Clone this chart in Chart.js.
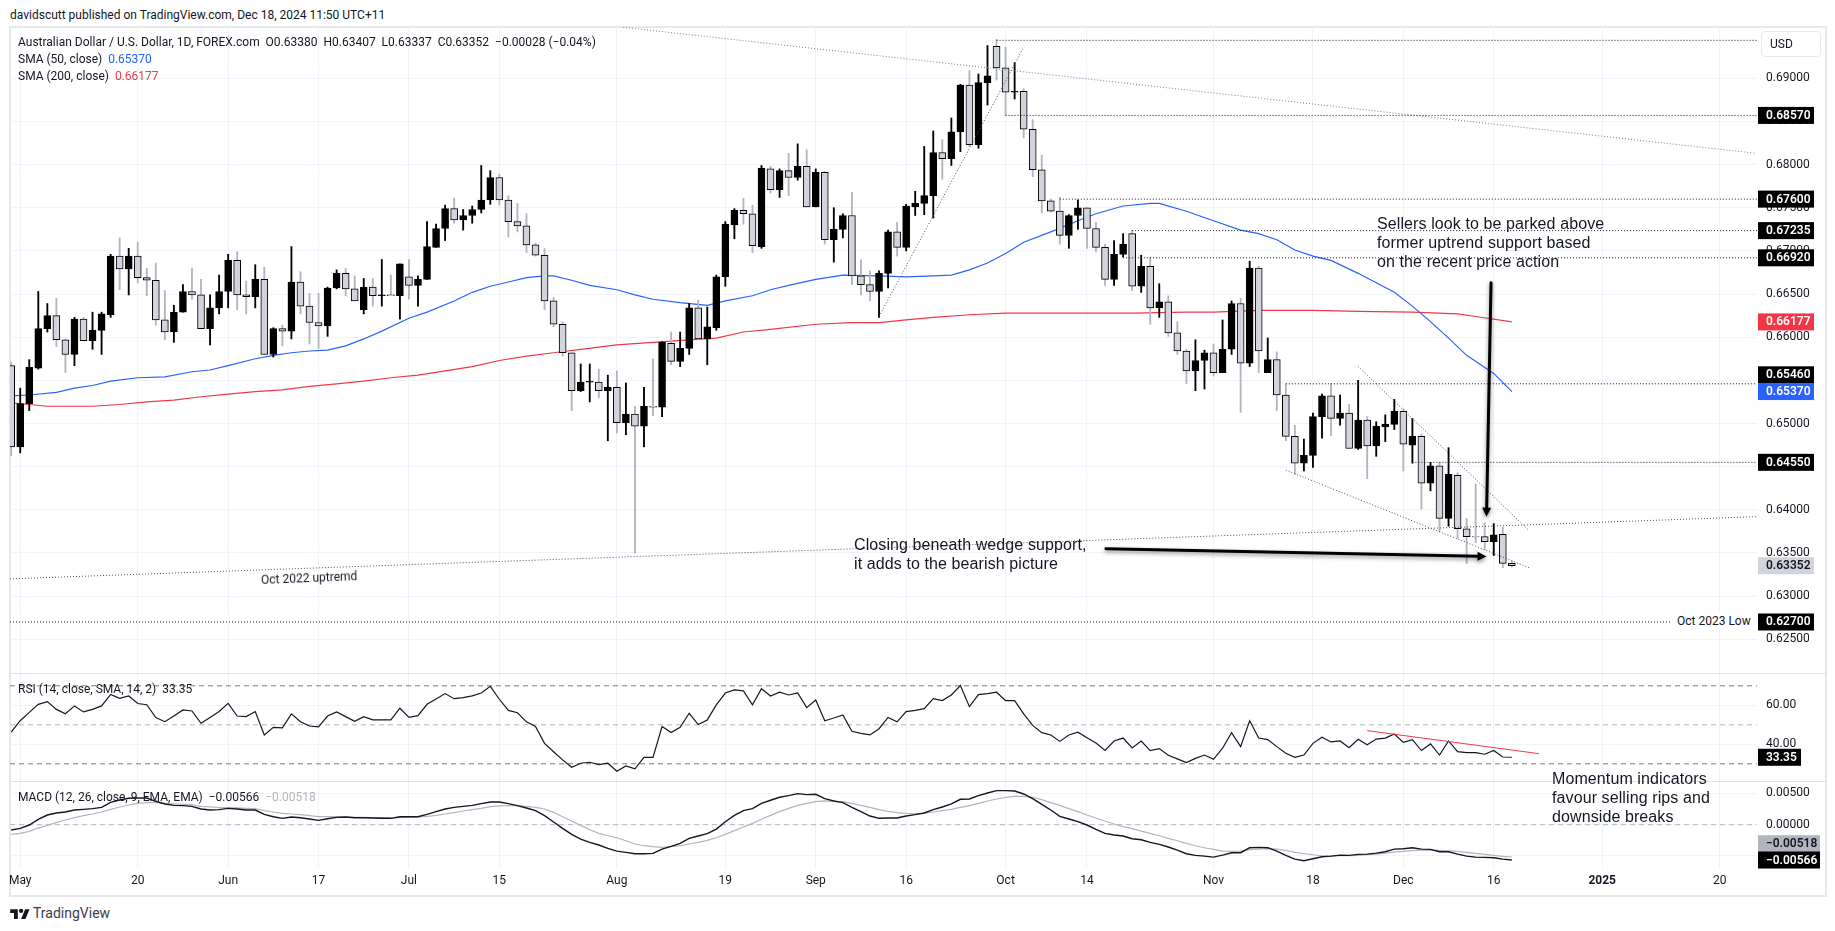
<!DOCTYPE html>
<html>
<head>
<meta charset="utf-8">
<title>AUD/USD</title>
<script src="https://cdn.jsdelivr.net/npm/chart.js@4/dist/chart.umd.min.js"></script>
<style>
  html, body { margin: 0; background: #fff; }
  #page { position: relative; width: 1835px; height: 931px; overflow: hidden; font-family: Roboto, sans-serif; color: #131722; }
  canvas { position: absolute; left: 0; }
  .txt { position: absolute; white-space: pre; font-size: 12px; line-height: 16px; }
  .note { position: absolute; white-space: pre; font-family: "Liberation Sans", Arial, sans-serif; font-size: 16px; letter-spacing: 0.1px; line-height: 19px; color: #131722; }
  .line { position: absolute; background: #e6e8ee; }
</style>
</head>
<body>
<div id="page">
  <div class="line" style="left:9px;top:26px;width:1818px;height:2px"></div>
  <div class="line" style="left:9px;top:26px;width:2px;height:870px"></div>
  <div class="line" style="left:1825px;top:26px;width:2px;height:870px"></div>
  <div class="line" style="left:9px;top:895px;width:1818px;height:2px"></div>

  <canvas id="priceChart" width="1835" height="646" style="top:27px"></canvas>
  <canvas id="rsiChart" width="1835" height="108" style="top:674px"></canvas>
  <canvas id="macdChart" width="1835" height="113" style="top:782px"></canvas>

  <div class="line" style="left:9px;top:673px;width:1818px;height:1px;background:#e0e3eb"></div>
  <div class="line" style="left:9px;top:781px;width:1818px;height:1px;background:#e0e3eb"></div>

  <div class="txt" style="left:10px;top:7px">davidscutt published on TradingView.com, Dec 18, 2024 11:50 UTC+11</div>
  <div class="txt" style="left:18px;top:34px">Australian Dollar / U.S. Dollar, 1D, FOREX.com  O0.63380  H0.63407  L0.63337  C0.63352  −0.00028 (−0.04%)</div>
  <div class="txt" style="left:18px;top:51px">SMA (50, close)  <span style="color:#2962ff">0.65370</span></div>
  <div class="txt" style="left:18px;top:68px">SMA (200, close)  <span style="color:#f23645">0.66177</span></div>
  <div class="txt" style="left:18px;top:681px">RSI (14, close, SMA, 14, 2)  33.35</div>
  <div class="txt" style="left:18px;top:789px">MACD (12, 26, close, 9, EMA, EMA)  −0.00566  <span style="color:#b2b5be">−0.00518</span></div>

  <div class="txt" style="left:1761px;top:31px;width:58px;height:24px;border:1.5px solid #e6e8ee;border-radius:4px;line-height:24px;text-indent:8px">USD</div>

  <div class="txt" style="left:261px;top:570px;transform:rotate(-2.3deg)">Oct 2022 uptremd</div>
  <div class="txt" style="left:1671px;top:613px;padding:0 6px;background:#fff">Oct 2023 Low</div>

  <div class="note" style="left:1377px;top:214px">Sellers look to be parked above
former uptrend support based
on the recent price action</div>
  <div class="note" style="left:854px;top:535px">Closing beneath wedge support,
it adds to the bearish picture</div>
  <div class="note" style="left:1552px;top:769px">Momentum indicators
favour selling rips and
downside breaks</div>

  <svg style="position:absolute;left:10px;top:907px" width="20" height="12" viewBox="0 0 36 22">
    <path fill="#131722" d="M14 22H7V11H0V4h14v18zM28 22h-8l7.5-18h8L28 22z"/><circle fill="#131722" cx="20" cy="7" r="4"/>
  </svg>
  <div class="txt" style="left:33px;top:905px;font-size:14px;color:#3a3e4a">TradingView</div>
</div>

<script>
// Daily candles, Apr 30 to Dec 18 2024, index 0 = Apr 30
const opens = [
  0.6567,0.6473,0.6523,0.6564,0.6610,0.6625,0.6597,0.6580,0.6621,0.6596,
  0.6608,0.6626,0.6694,0.6679,0.6694,0.6669,0.6666,0.6620,0.6606,0.6629,
  0.6653,0.6649,0.6610,0.6634,0.6653,0.6689,0.6649,0.6647,0.6667,0.6580,
  0.6610,0.6607,0.6664,0.6636,0.6617,0.6613,0.6657,0.6674,0.6656,0.6632,
  0.6658,0.6648,0.6649,0.6648,0.6670,0.6660,0.6667,0.6704,0.6726,0.6749,
  0.6736,0.6741,0.6748,0.6759,0.6785,0.6759,0.6734,0.6729,0.6707,0.6695,
  0.6642,0.6615,0.6582,0.6538,0.6548,0.6548,0.6538,0.6542,0.6501,0.6511,
  0.6497,0.6520,0.6519,0.6593,0.6572,0.6587,0.6634,0.6598,0.6611,0.6670,
  0.6730,0.6747,0.6743,0.6705,0.6795,0.6771,0.6793,0.6785,0.6798,0.6751,
  0.6791,0.6713,0.6725,0.6741,0.6671,0.6661,0.6653,0.6674,0.6722,0.6704,
  0.6751,0.6755,0.6764,0.6814,0.6807,0.6838,0.6892,0.6823,0.6895,0.6937,
  0.6912,0.6884,0.6885,0.6841,0.6794,0.6758,0.6746,0.6718,0.6741,0.6750,
  0.6726,0.6704,0.6667,0.6696,0.6720,0.6659,0.6682,0.6634,0.6641,0.6605,
  0.6584,0.6561,0.6573,0.6582,0.6559,0.6586,0.6639,0.6570,0.6680,0.6559,
  0.6574,0.6533,0.6485,0.6454,0.6463,0.6508,0.6532,0.6506,0.6512,0.6471,
  0.6504,0.6474,0.6496,0.6499,0.6514,0.6475,0.6485,0.6431,0.6451,0.6390,
  0.6440,0.6378,0.6369,0.6369,0.6363,0.63715,0.63380
];
const highs = [
  0.6571,0.6541,0.6574,0.6653,0.6639,0.6645,0.6598,0.6623,0.6623,0.6629,
  0.6629,0.6696,0.6715,0.6703,0.6710,0.6680,0.6686,0.6654,0.6637,0.6661,
  0.6680,0.6667,0.6649,0.6672,0.6696,0.6699,0.6665,0.6684,0.6681,0.6611,
  0.6614,0.6705,0.6676,0.6651,0.6651,0.6658,0.6678,0.6680,0.6671,0.6668,
  0.6668,0.6690,0.6672,0.6685,0.6690,0.6671,0.6734,0.6731,0.6753,0.6761,
  0.6748,0.6752,0.6799,0.6793,0.6789,0.6764,0.6755,0.6743,0.6709,0.6703,
  0.6646,0.6618,0.6582,0.6569,0.6569,0.6563,0.6556,0.6561,0.6547,0.6520,
  0.6542,0.6575,0.6595,0.6606,0.6606,0.6639,0.6643,0.6635,0.6672,0.6734,
  0.6749,0.6761,0.6753,0.6799,0.6798,0.6795,0.6813,0.6824,0.6817,0.6795,
  0.6792,0.6750,0.6743,0.6768,0.6690,0.6677,0.6677,0.6724,0.6733,0.6754,
  0.6769,0.6821,0.6839,0.6829,0.6854,0.6893,0.6909,0.6905,0.6938,0.6945,
  0.6936,0.6918,0.6888,0.6852,0.6811,0.6760,0.6762,0.6742,0.6759,0.6750,
  0.6733,0.6708,0.6712,0.6720,0.6724,0.6695,0.6693,0.6662,0.6648,0.6618,
  0.6586,0.6597,0.6585,0.6592,0.6620,0.6642,0.6645,0.6688,0.6682,0.6599,
  0.6583,0.6546,0.6498,0.6482,0.6512,0.6534,0.6546,0.6533,0.6522,0.6550,
  0.6508,0.6502,0.6510,0.6528,0.6517,0.6506,0.6488,0.6455,0.6455,0.6472,
  0.6443,0.6390,0.6430,0.6385,0.6384,0.6380,0.63407
];
const lows = [
  0.6463,0.6466,0.6515,0.6563,0.6606,0.6589,0.6559,0.6567,0.6596,0.6586,
  0.6580,0.6623,0.6655,0.6649,0.6663,0.6648,0.6614,0.6597,0.6594,0.6629,
  0.6644,0.6610,0.6591,0.6627,0.6634,0.6632,0.6627,0.6634,0.6580,0.6577,
  0.6590,0.6598,0.6627,0.6592,0.6587,0.6601,0.6656,0.6648,0.6642,0.6627,
  0.6636,0.6636,0.6648,0.6621,0.6644,0.6636,0.6667,0.6704,0.6712,0.6732,
  0.6724,0.6732,0.6744,0.6754,0.6753,0.6716,0.6722,0.6698,0.6694,0.6632,
  0.6612,0.6578,0.6515,0.6537,0.6525,0.6530,0.6480,0.6489,0.6487,0.6350,
  0.6473,0.6509,0.6508,0.6568,0.6566,0.6580,0.6597,0.6568,0.6608,0.6659,
  0.6714,0.6731,0.6698,0.6703,0.6767,0.6762,0.6764,0.6782,0.6751,0.6751,
  0.6708,0.6687,0.6715,0.6661,0.6649,0.6642,0.6623,0.6657,0.6694,0.6700,
  0.6741,0.6742,0.6738,0.6783,0.6799,0.6815,0.6821,0.6819,0.6869,0.6898,
  0.6857,0.6876,0.6831,0.6786,0.6744,0.6745,0.6708,0.6703,0.6725,0.6703,
  0.6699,0.6660,0.6660,0.6693,0.6654,0.6652,0.6615,0.6623,0.6601,0.6580,
  0.6546,0.6538,0.6540,0.6555,0.6559,0.6580,0.6513,0.6566,0.6559,0.6559,
  0.6515,0.6480,0.6441,0.6445,0.6449,0.6483,0.6486,0.6498,0.6471,0.6470,
  0.6436,0.6462,0.6479,0.6493,0.6445,0.6454,0.6401,0.6422,0.6375,0.6381,
  0.6367,0.6338,0.6362,0.6354,0.6347,0.6333,0.63337
];
const closes = [
  0.6473,0.6523,0.6565,0.6610,0.6625,0.6597,0.6580,0.6621,0.6596,0.6608,
  0.6627,0.6694,0.6679,0.6694,0.6669,0.6666,0.6620,0.6606,0.6629,0.6653,
  0.6649,0.6610,0.6634,0.6653,0.6689,0.6649,0.6647,0.6667,0.6580,0.6610,
  0.6607,0.6664,0.6636,0.6617,0.6613,0.6657,0.6674,0.6656,0.6642,0.6658,
  0.6648,0.6649,0.6648,0.6685,0.6660,0.6667,0.6705,0.6726,0.6749,0.6736,
  0.6741,0.6748,0.6759,0.6785,0.6759,0.6734,0.6729,0.6707,0.6695,0.6642,
  0.6615,0.6582,0.6538,0.6548,0.6549,0.6538,0.6542,0.6501,0.6511,0.6497,
  0.6520,0.6519,0.6594,0.6572,0.6587,0.6634,0.6598,0.6612,0.6670,0.6731,
  0.6747,0.6743,0.6706,0.6796,0.6771,0.6793,0.6785,0.6798,0.6751,0.6791,
  0.6713,0.6725,0.6741,0.6671,0.6661,0.6653,0.6674,0.6722,0.6704,0.6752,
  0.6755,0.6764,0.6814,0.6807,0.6838,0.6892,0.6823,0.6895,0.6903,0.6912,
  0.6884,0.6885,0.6841,0.6794,0.6758,0.6746,0.6718,0.6741,0.6750,0.6726,
  0.6704,0.6667,0.6696,0.6708,0.6659,0.6682,0.6634,0.6641,0.6605,0.6584,
  0.6561,0.6573,0.6582,0.6559,0.6586,0.6639,0.6570,0.6680,0.6584,0.6574,
  0.6533,0.6485,0.6454,0.6463,0.6508,0.6532,0.6506,0.6512,0.6471,0.6504,
  0.6474,0.6497,0.6499,0.6514,0.6476,0.6485,0.6431,0.6451,0.6390,0.6441,
  0.6378,0.6369,0.63685,0.6363,0.6371,0.6338,0.63352
];

const sma50Idx = [0,2,5,7,9,11,14,17,20,22,24,27,29,31,33,35,37,39,41,44,46,49,51,53,55,57,59,60,62,64,67,69,71,74,77,79,82,84,86,89,92,96,99,102,104,106,108,110,112,115,118,120,123,126,127,130,133,136,138,140,142,144,146,149,151,153,155,157,159,161,164,166];
const sma50 = [0.6532,0.6533,0.6536,0.6541,0.6544,0.6549,0.6553,0.6554,0.6560,0.6562,0.6567,0.6575,0.6579,0.6582,0.6584,0.6585,0.6590,0.6598,0.6607,0.6622,0.6629,0.6642,0.6652,0.6659,0.6664,0.6669,0.6671,0.6671,0.6666,0.6660,0.6655,0.6649,0.6644,0.6640,0.6637,0.6642,0.6648,0.6655,0.6660,0.6667,0.6672,0.6671,0.6670,0.6671,0.6672,0.6678,0.6686,0.6697,0.6710,0.6722,0.6735,0.6743,0.6752,0.6755,0.6755,0.6746,0.6735,0.6724,0.6720,0.6713,0.6701,0.6694,0.6689,0.6674,0.6663,0.6652,0.6636,0.6618,0.6599,0.6579,0.6558,0.6537];
const sma200Idx = [0,2,4,6,9,12,15,18,21,24,27,30,33,36,39,42,45,48,51,54,57,60,63,67,71,75,78,81,84,89,93,96,99,102,106,110,114,119,124,130,133,138,144,149,155,160,162,166];
const sma200 = [0.6524,0.6522,0.6520,0.6520,0.6520,0.6522,0.6525,0.6527,0.6531,0.6534,0.6537,0.6539,0.6543,0.6546,0.6549,0.6553,0.6556,0.6561,0.6566,0.6573,0.6578,0.6582,0.6586,0.6591,0.6594,0.6597,0.6599,0.6606,0.6609,0.6615,0.6617,0.6617,0.6620,0.6623,0.6626,0.6628,0.6628,0.6628,0.6628,0.6629,0.6629,0.6631,0.6631,0.6630,0.6629,0.6627,0.6624,0.66177];

const rsiValues = [
  46.3,52.1,56.4,60.5,61.9,57.9,55.7,59.7,56.6,57.9,59.7,65.6,63.6,64.8,60.9,60.3,53.7,51.6,54.5,57.6,
  57.1,50.8,53.8,56.8,61.0,54.5,54.2,56.8,44.8,48.7,48.4,55.6,51.6,49.4,48.9,54.5,56.6,54.2,51.8,54.2,
  52.5,52.5,52.5,58.5,53.8,54.7,60.5,63.2,66.0,63.4,63.9,64.8,66.3,69.7,63.1,57.4,56.2,51.5,49.2,40.5,
  36.2,32.0,28.2,30.3,30.8,29.6,30.3,26.2,28.9,27.4,33.3,33.3,49.1,46.0,48.7,55.9,50.1,52.5,60.2,66.3,
  67.9,67.4,60.2,68.5,64.8,66.7,65.3,66.3,58.8,62.7,52.1,53.5,55.0,46.7,45.6,44.8,48.0,53.8,51.5,56.8,
  57.4,58.3,63.4,62.4,65.3,70.1,59.3,65.5,66.0,66.7,62.4,62.4,55.6,49.7,46.0,44.8,41.5,44.8,46.2,43.4,
  40.7,36.9,41.7,43.2,38.1,41.7,36.8,37.8,34.4,32.5,30.6,32.8,34.5,32.3,38.0,46.0,38.8,52.1,43.2,42.4,
  38.8,35.4,33.3,34.5,40.5,43.6,41.2,41.7,38.3,42.6,39.8,42.7,43.2,45.3,41.0,42.4,36.8,40.2,34.5,41.7,
  36.2,35.7,35.7,34.9,36.8,33.5,33.35
];
const macdLine = [
  -0.00086,-0.00059,-0.00005,0.00086,0.00155,0.00187,0.00203,0.00235,0.00246,0.00257,0.00278,0.00358,0.00396,0.00423,0.00428,0.00428,0.00375,0.00332,0.00310,0.00305,
  0.00294,0.00251,0.00235,0.00241,0.00262,0.00251,0.00235,0.00235,0.00166,0.00128,0.00102,0.00123,0.00112,0.00091,0.00070,0.00096,0.00118,0.00123,0.00112,0.00112,
  0.00107,0.00102,0.00102,0.00128,0.00128,0.00128,0.00166,0.00209,0.00251,0.00278,0.00294,0.00310,0.00337,0.00364,0.00364,0.00337,0.00305,0.00268,0.00225,0.00144,
  0.00043,-0.00059,-0.00155,-0.00230,-0.00284,-0.00326,-0.00380,-0.00423,-0.00444,-0.00465,-0.00465,-0.00460,-0.00391,-0.00348,-0.00300,-0.00219,-0.00182,-0.00144,-0.00070,0.00048,
  0.00150,0.00225,0.00257,0.00342,0.00391,0.00439,0.00465,0.00498,0.00482,0.00487,0.00417,0.00380,0.00353,0.00278,0.00209,0.00139,0.00102,0.00107,0.00107,0.00139,
  0.00161,0.00187,0.00241,0.00284,0.00332,0.00407,0.00412,0.00465,0.00508,0.00546,0.00546,0.00540,0.00492,0.00417,0.00326,0.00235,0.00134,0.00091,0.00048,-0.00005,
  -0.00075,-0.00139,-0.00166,-0.00182,-0.00225,-0.00241,-0.00284,-0.00316,-0.00358,-0.00407,-0.00465,-0.00492,-0.00503,-0.00519,-0.00487,-0.00449,-0.00449,-0.00369,-0.00364,-0.00369,
  -0.00423,-0.00492,-0.00551,-0.00578,-0.00546,-0.00514,-0.00503,-0.00487,-0.00492,-0.00476,-0.00471,-0.00455,-0.00433,-0.00391,-0.00385,-0.00369,-0.00391,-0.00396,-0.00433,-0.00433,
  -0.00471,-0.00503,-0.00519,-0.00524,-0.00530,-0.00551,-0.00566
];
const macdSignal = [
  -0.00155,-0.00139,-0.00107,-0.00054,-0.00011,0.00032,0.00075,0.00112,0.00144,0.00171,0.00203,0.00246,0.00284,0.00316,0.00342,0.00353,0.00353,0.00342,0.00332,0.00326,
  0.00321,0.00294,0.00284,0.00273,0.00273,0.00268,0.00262,0.00257,0.00225,0.00203,0.00182,0.00171,0.00161,0.00144,0.00128,0.00128,0.00128,0.00123,0.00118,0.00118,
  0.00112,0.00112,0.00107,0.00112,0.00118,0.00123,0.00134,0.00150,0.00171,0.00193,0.00219,0.00241,0.00262,0.00289,0.00300,0.00305,0.00305,0.00294,0.00278,0.00251,
  0.00198,0.00128,0.00059,-0.00011,-0.00080,-0.00139,-0.00177,-0.00209,-0.00257,-0.00310,-0.00337,-0.00353,-0.00364,-0.00353,-0.00337,-0.00310,-0.00284,-0.00251,-0.00209,-0.00155,
  -0.00096,-0.00037,0.00021,0.00086,0.00150,0.00209,0.00262,0.00310,0.00342,0.00369,0.00380,0.00375,0.00369,0.00342,0.00310,0.00278,0.00241,0.00214,0.00193,0.00182,
  0.00177,0.00182,0.00203,0.00225,0.00246,0.00278,0.00305,0.00342,0.00380,0.00412,0.00439,0.00455,0.00455,0.00439,0.00401,0.00353,0.00310,0.00257,0.00209,0.00155,
  0.00107,0.00059,0.00011,-0.00032,-0.00064,-0.00102,-0.00139,-0.00177,-0.00219,-0.00257,-0.00300,-0.00337,-0.00369,-0.00396,-0.00423,-0.00428,-0.00423,-0.00401,-0.00391,-0.00385,
  -0.00391,-0.00412,-0.00444,-0.00465,-0.00482,-0.00498,-0.00503,-0.00498,-0.00498,-0.00492,-0.00482,-0.00471,-0.00455,-0.00439,-0.00428,-0.00417,-0.00407,-0.00407,-0.00412,-0.00417,
  -0.00428,-0.00444,-0.00460,-0.00476,-0.00492,-0.00508,-0.00518
];

const xTickIdx = [1,14,24,34,44,54,67,79,89,99,110,119,133,144,154,164,176,189];
const xTickLabels = ['May','20','Jun','17','Jul','15','Aug','19','Sep','16','Oct','14','Nov','18','Dec','16','2025','20'];
const priceTicks = [0.625,0.63,0.635,0.64,0.645,0.65,0.655,0.66,0.665,0.67,0.675,0.68,0.685,0.69];
const rsiTicks = [40,60];
const rsiBands = [70,50,30];
const macdTicks = [-0.005,0,0.005];

// horizontal levels drawn on the price pane, and the bar each one starts from
const levelPrices = [0.6944,0.6857,0.6760,0.67235,0.6692,0.6546,0.6455,0.6270];
const levelStarts = [109,110,116,124,123,141,155,-0.13];

// trendlines: [start bar, start price, end bar, end price]
const greyTrend = [67.7,0.69591,193,0.68131];
const riseTrend = [96,0.6624,111.9,0.6934];
const uptrend2022 = [-0.13,0.6320,193,0.6392];
const wedgeUpper = [149,0.6566,167.9,0.6376];
const wedgeLower = [141,0.6446,167.9,0.6333];
const rsiTrend = [150,47.0,169,35.2];
const arrowDown = [163.7,0.6663,163.2,0.6392];
const arrowAcross = [121.1,0.6355,163.2,0.6346];

const priceTags = [
  { value: 0.6857, text: '0.68570', bg: '#000', fg: '#fff' },
  { value: 0.6760, text: '0.67600', bg: '#000', fg: '#fff' },
  { value: 0.67235, text: '0.67235', bg: '#000', fg: '#fff' },
  { value: 0.6692, text: '0.66920', bg: '#000', fg: '#fff' },
  { value: 0.66177, text: '0.66177', bg: '#f23645', fg: '#fff' },
  { value: 0.6546, text: '0.65460', bg: '#000', fg: '#fff', shift: -9 },
  { value: 0.6537, text: '0.65370', bg: '#2962ff', fg: '#fff' },
  { value: 0.6455, text: '0.64550', bg: '#000', fg: '#fff' },
  { value: 0.63352, text: '0.63352', bg: '#d1d4dc', fg: '#131722' },
  { value: 0.6270, text: '0.62700', bg: '#000', fg: '#fff' }
];
const rsiTags = [{ value: 33.35, text: '33.35', bg: '#000', fg: '#fff', width: 43 }];
const macdTags = [
  { value: -0.00518, text: '−0.00518', bg: '#b2b5be', fg: '#131722', width: 62, shift: -13.3 },
  { value: -0.00566, text: '−0.00566', bg: '#000', fg: '#fff', width: 62 }
];

const X_MIN = -0.13;
const X_MAX = 193.12;
const GRID = '#f0f3fa';
const TEXT = '#131722';
const FONT = 'Roboto';

function points(idx, values) {
  return values.map((v, i) => ({ x: idx[i], y: v }));
}

function seriesLine(values) {
  return values.map((v, i) => ({ x: i, y: v }));
}

function segment(t) {
  return [{ x: t[0], y: t[1] }, { x: t[2], y: t[3] }];
}

function lineSet(data, color, width, dash, order) {
  return {
    type: 'line', data, borderColor: color, borderWidth: width, borderDash: dash || [],
    pointRadius: 0, tension: 0, order: order === undefined ? 1 : order
  };
}

// tick labels must not pull the plot area in, panes line up to the pixel
function noPadding(scale) {
  scale.paddingTop = 0;
  scale.paddingBottom = 0;
  scale.paddingLeft = 0;
  scale.paddingRight = 0;
}

function xScale(showLabels, height) {
  return {
    type: 'linear', min: X_MIN, max: X_MAX, offset: false,
    afterBuildTicks: (scale) => { scale.ticks = xTickIdx.map((v) => ({ value: v })); },
    afterFit: (scale) => { scale.height = height; noPadding(scale); },
    grid: { color: GRID, drawTicks: false, offset: false },
    border: { display: false },
    ticks: {
      display: showLabels, autoSkip: false, maxRotation: 0, padding: 6, color: TEXT,
      font: (ctx) => ({ family: FONT, size: 12, weight: ctx.tick && ctx.tick.value === 176 ? '700' : '400' }),
      callback: (value) => xTickLabels[xTickIdx.indexOf(value)]
    }
  };
}

function yScale(min, max, tickValues, digits) {
  return {
    position: 'right', min, max,
    afterBuildTicks: (scale) => { scale.ticks = tickValues.map((v) => ({ value: v })); },
    afterFit: (scale) => { scale.width = 78; noPadding(scale); },
    grid: { color: GRID, drawTicks: false },
    border: { display: false },
    ticks: {
      autoSkip: false, padding: 9, color: TEXT, font: { family: FONT, size: 12 },
      callback: (value) => value.toFixed(digits)
    }
  };
}

// value tags on the right axis, drawn over the tick labels
function tagPlugin(tags) {
  return {
    id: 'tags',
    afterDraw(chart) {
      const { ctx, scales: { y } } = chart;
      ctx.save();
      ctx.font = `600 12px ${FONT}`;
      ctx.textBaseline = 'middle';
      tags.forEach((tag) => {
        const top = y.getPixelForValue(tag.value) - 8.5 + (tag.shift || 0);
        ctx.fillStyle = tag.bg;
        ctx.fillRect(1758, top, tag.width || 56, 17);
        ctx.fillStyle = tag.fg;
        ctx.fillText(tag.text, 1766, top + 9);
      });
      ctx.restore();
    }
  };
}

const arrowPlugin = {
  id: 'arrows',
  afterDatasetsDraw(chart) {
    const { ctx, scales: { x, y } } = chart;
    [arrowDown, arrowAcross].forEach((a) => {
      const x1 = x.getPixelForValue(a[0]);
      const y1 = y.getPixelForValue(a[1]);
      const x2 = x.getPixelForValue(a[2]);
      const y2 = y.getPixelForValue(a[3]);
      const ang = Math.atan2(y2 - y1, x2 - x1);
      ctx.save();
      ctx.shadowColor = 'rgba(0,0,0,0.45)';
      ctx.shadowBlur = 4;
      ctx.shadowOffsetY = 2;
      ctx.strokeStyle = '#000';
      ctx.fillStyle = '#000';
      ctx.lineWidth = 3;
      ctx.lineCap = 'round';
      ctx.beginPath();
      ctx.moveTo(x1, y1);
      ctx.lineTo(x2 - 8 * Math.cos(ang), y2 - 8 * Math.sin(ang));
      ctx.stroke();
      ctx.beginPath();
      ctx.moveTo(x2, y2);
      ctx.lineTo(x2 - 9 * Math.cos(ang) + 4.5 * Math.sin(ang), y2 - 9 * Math.sin(ang) - 4.5 * Math.cos(ang));
      ctx.lineTo(x2 - 9 * Math.cos(ang) - 4.5 * Math.sin(ang), y2 - 9 * Math.sin(ang) + 4.5 * Math.cos(ang));
      ctx.closePath();
      ctx.fill();
      ctx.restore();
    });
  }
};

const baseOptions = {
  responsive: false,
  animation: false,
  events: [],
  layout: { padding: { left: 10 } },
  plugins: { legend: { display: false }, tooltip: { enabled: false } }
};

const isUp = opens.map((o, i) => closes[i] >= o);

new Chart(document.getElementById('priceChart'), {
  data: {
    datasets: [
      {
        type: 'bar', grouped: false, order: 2, barThickness: 7, borderWidth: 1, borderSkipped: false, borderColor: '#000',
        data: opens.map((o, i) => ({ x: i, y: [o, closes[i]] })),
        backgroundColor: isUp.map((up) => (up ? '#000' : '#d1d4dc'))
      },
      {
        type: 'bar', grouped: false, order: 3, barThickness: 1.2,
        data: lows.map((l, i) => ({ x: i, y: [l, highs[i]] })),
        backgroundColor: isUp.map((up) => (up ? '#000' : '#b2b5be'))
      },
      lineSet(points(sma50Idx, sma50), '#2962ff', 1.2, null, 4),
      lineSet(points(sma200Idx, sma200), '#f23645', 1.2, null, 4),
      ...levelPrices.map((p, i) => lineSet(segment([levelStarts[i], p, X_MAX, p]), '#131722', 1, [1, 2], 1)),
      lineSet(segment(greyTrend), '#787b86', 1, [1, 2], 1),
      lineSet(segment(riseTrend), '#4a4e59', 1, [1, 2], 1),
      lineSet(segment(uptrend2022), '#4a4e59', 1, [1, 2], 1),
      lineSet(segment(wedgeUpper), '#4a4e59', 1, [1, 2], 1),
      lineSet(segment(wedgeLower), '#4a4e59', 1, [1, 2], 1)
    ]
  },
  options: {
    ...baseOptions,
    scales: { x: xScale(false, 0), y: yScale(0.62109, 0.695944, priceTicks, 5) }
  },
  plugins: [arrowPlugin, tagPlugin(priceTags)]
});

new Chart(document.getElementById('rsiChart'), {
  data: {
    datasets: [
      ...rsiBands.map((b) => lineSet(segment([X_MIN, b, X_MAX, b]), b === 50 ? '#b2b5be' : '#787b86', 1, [5, 4], 3)),
      lineSet(seriesLine(rsiValues), '#131722', 1.2, null, 2),
      lineSet(segment(rsiTrend), '#f23645', 1, null, 1)
    ]
  },
  options: {
    ...baseOptions,
    scales: { x: xScale(false, 0), y: yScale(20.67, 76.05, rsiTicks, 2) }
  },
  plugins: [tagPlugin(rsiTags)]
});

new Chart(document.getElementById('macdChart'), {
  data: {
    datasets: [
      lineSet(segment([X_MIN, 0, X_MAX, 0]), '#b2b5be', 1, [5, 4], 3),
      lineSet(seriesLine(macdSignal), '#b2b5be', 1.2, null, 2),
      lineSet(seriesLine(macdLine), '#131722', 1.4, null, 1)
    ]
  },
  options: {
    ...baseOptions,
    scales: { x: xScale(true, 27), y: yScale(-0.00694, 0.00684, macdTicks, 5) }
  },
  plugins: [tagPlugin(macdTags)]
});
</script>
</body>
</html>
